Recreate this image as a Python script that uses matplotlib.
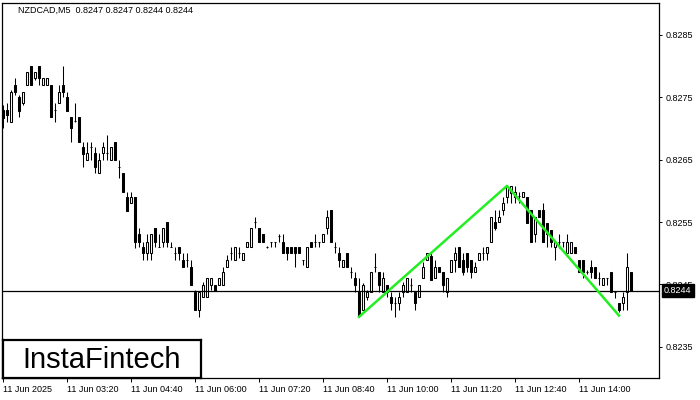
import numpy as np
import matplotlib
matplotlib.use("Agg")
from matplotlib import pyplot as plt
from matplotlib import transforms

plt.rcParams['font.family'] = ['Liberation Sans', 'DejaVu Sans']

# NZDCAD M5 candles, prices in points (1e-5)
open_pts = [
    82730, 82730, 82711, 82770, 82751, 82741, 82770, 82800, 82781, 82800,
    82770, 82770, 82770, 82730, 82741, 82770, 82751, 82719, 82712, 82719,
    82670, 82650, 82670, 82661, 82629, 82661, 82661, 82650, 82679, 82638,
    82629, 82590, 82581, 82590, 82530, 82510, 82501, 82501, 82541, 82510,
    82518, 82550, 82510, 82501, 82510, 82489, 82489, 82478, 82438, 82409,
    82430, 82430, 82449, 82449, 82449, 82449, 82478, 82501, 82489, 82501,
    82489, 82510, 82510, 82550, 82541, 82530, 82510, 82518, 82518, 82528,
    82518, 82510, 82510, 82510, 82510, 82489, 82478, 82518, 82518, 82518,
    82518, 82541, 82570, 82510, 82501, 82478, 82501, 82470, 82461, 82438,
    82409, 82430, 82438, 82478, 82470, 82438, 82449, 82430, 82420, 82420,
    82438, 82438, 82449, 82438, 82430, 82461, 82489, 82496, 82461, 82478,
    82470, 82438, 82470, 82489, 82510, 82489, 82501, 82489, 82470, 82489,
    82501, 82501, 82518, 82550, 82550, 82570, 82590, 82597, 82590, 82592,
    82590, 82590, 82570, 82530, 82570, 82570, 82549, 82537, 82510, 82518,
    82518, 82501, 82501, 82510, 82489, 82489, 82470, 82478, 82478, 82461,
    82449, 82461, 82470, 82438, 82420, 82420, 82438, 82470]
high_pts = [
    82738, 82741, 82762, 82781, 82754, 82759, 82791, 82800, 82791, 82800,
    82781, 82781, 82770, 82741, 82770, 82800, 82759, 82719, 82741, 82719,
    82679, 82679, 82679, 82670, 82661, 82679, 82690, 82670, 82679, 82650,
    82629, 82598, 82598, 82590, 82541, 82518, 82530, 82530, 82541, 82530,
    82541, 82550, 82518, 82510, 82510, 82501, 82501, 82489, 82441, 82438,
    82454, 82461, 82461, 82449, 82461, 82478, 82497, 82510, 82510, 82510,
    82501, 82518, 82541, 82558, 82541, 82530, 82512, 82518, 82518, 82530,
    82530, 82510, 82510, 82510, 82510, 82489, 82510, 82518, 82530, 82518,
    82530, 82570, 82570, 82518, 82510, 82489, 82501, 82478, 82470, 82461,
    82453, 82441, 82470, 82501, 82470, 82470, 82449, 82438, 82430, 82438,
    82454, 82461, 82461, 82438, 82449, 82486, 82501, 82501, 82489, 82478,
    82470, 82461, 82489, 82510, 82510, 82501, 82501, 82489, 82486, 82501,
    82510, 82510, 82558, 82570, 82570, 82590, 82608, 82608, 82608, 82598,
    82598, 82590, 82570, 82558, 82570, 82581, 82549, 82537, 82518, 82530,
    82518, 82530, 82518, 82510, 82489, 82489, 82473, 82489, 82478, 82470,
    82461, 82461, 82470, 82438, 82420, 82438, 82501, 82470]
low_pts = [
    82701, 82711, 82711, 82754, 82719, 82738, 82770, 82770, 82778, 82770,
    82770, 82770, 82719, 82711, 82741, 82751, 82728, 82679, 82711, 82679,
    82638, 82650, 82650, 82629, 82629, 82650, 82650, 82650, 82650, 82621,
    82598, 82568, 82581, 82509, 82510, 82489, 82489, 82489, 82510, 82510,
    82510, 82510, 82510, 82489, 82489, 82478, 82478, 82449, 82409, 82398,
    82430, 82430, 82441, 82440, 82449, 82449, 82478, 82489, 82489, 82493,
    82489, 82510, 82510, 82541, 82518, 82518, 82509, 82510, 82510, 82518,
    82501, 82489, 82501, 82478, 82501, 82481, 82478, 82510, 82510, 82510,
    82518, 82530, 82518, 82501, 82478, 82478, 82478, 82461, 82438, 82398,
    82409, 82425, 82438, 82470, 82438, 82438, 82430, 82409, 82398, 82409,
    82430, 82438, 82438, 82409, 82430, 82461, 82489, 82457, 82461, 82470,
    82438, 82430, 82470, 82470, 82478, 82465, 82470, 82461, 82470, 82489,
    82489, 82489, 82518, 82537, 82550, 82561, 82581, 82581, 82581, 82581,
    82590, 82549, 82518, 82518, 82558, 82518, 82510, 82510, 82489, 82509,
    82510, 82501, 82501, 82501, 82470, 82461, 82467, 82461, 82461, 82449,
    82449, 82449, 82438, 82429, 82406, 82409, 82409, 82440]
close_pts = [
    82717, 82722, 82759, 82759, 82728, 82759, 82791, 82770, 82791, 82781,
    82781, 82781, 82719, 82730, 82759, 82759, 82728, 82701, 82712, 82679,
    82659, 82661, 82670, 82638, 82650, 82670, 82661, 82670, 82650, 82638,
    82598, 82568, 82590, 82518, 82518, 82501, 82518, 82530, 82518, 82510,
    82541, 82518, 82510, 82501, 82501, 82478, 82489, 82449, 82409, 82438,
    82449, 82461, 82461, 82440, 82461, 82470, 82489, 82501, 82510, 82501,
    82501, 82518, 82541, 82550, 82518, 82518, 82510, 82518, 82518, 82528,
    82501, 82501, 82501, 82501, 82501, 82489, 82510, 82510, 82518, 82518,
    82530, 82558, 82518, 82510, 82489, 82489, 82478, 82470, 82449, 82400,
    82449, 82438, 82470, 82478, 82449, 82461, 82438, 82420, 82420, 82430,
    82449, 82461, 82449, 82420, 82449, 82478, 82501, 82457, 82478, 82470,
    82449, 82461, 82489, 82501, 82478, 82470, 82478, 82470, 82478, 82501,
    82501, 82510, 82558, 82541, 82558, 82581, 82608, 82608, 82598, 82592,
    82598, 82549, 82518, 82558, 82558, 82518, 82530, 82518, 82518, 82518,
    82518, 82518, 82518, 82501, 82470, 82470, 82470, 82470, 82461, 82461,
    82461, 82461, 82438, 82438, 82409, 82430, 82478, 82440]

# double top pattern line (bar index, price)
pattern_bars = [89, 126, 154]
pattern_prices = [0.82398, 0.82608, 0.82400]

last_price = 0.8244
price_ticks = [0.8235, 0.8245, 0.8255, 0.8265, 0.8275, 0.8285]
time_tick_bars = [0, 16, 32, 48, 64, 80, 96, 112, 128, 144]
time_tick_labels = ["11 Jun 2025", "11 Jun 03:20", "11 Jun 04:40", "11 Jun 06:00",
                    "11 Jun 07:20", "11 Jun 08:40", "11 Jun 10:00", "11 Jun 11:20",
                    "11 Jun 12:40", "11 Jun 14:00"]
title = "NZDCAD,M5  0.8247 0.8247 0.8244 0.8244"

o = np.array(open_pts) / 1e5
h = np.array(high_pts) / 1e5
l = np.array(low_pts) / 1e5
c = np.array(close_pts) / 1e5
x = np.arange(len(o))

fig = plt.figure(figsize=(7, 4), dpi=100)
ax = fig.add_axes([2/700, 22/400, 657/700, 375/400])

ax.vlines(x, l, h, color='black', lw=0.75, zorder=2)
up = c >= o
ax.bar(x, np.abs(c - o), bottom=np.minimum(o, c), width=0.5,
       color=np.where(up, 'white', 'black'), edgecolor='black', linewidth=0.75, zorder=3)

ax.axhline(last_price, color='black', lw=0.9, zorder=4)
ax.plot(pattern_bars, pattern_prices, color='#22ee22', lw=1.8, zorder=5)

ax.set_xlim(-0.25, 164)
ax.set_ylim(0.82300, 0.82901)

ax.yaxis.tick_right()
ax.set_yticks(price_ticks)
ax.set_yticklabels([f"{p:.4f}" for p in price_ticks])
ax.tick_params(axis='y', length=2.5, width=0.7, pad=2, labelsize=6.5)
ax.set_xticks(time_tick_bars)
ax.set_xticklabels(time_tick_labels, ha='left')
ax.tick_params(axis='x', length=3, width=0.7, pad=2, labelsize=6.5)
for s in ax.spines.values():
    s.set_linewidth(0.9)

# current price label (covers the 0.8245 tick label, as in the terminal)
trans = transforms.blended_transform_factory(ax.transAxes, ax.transData)
ax.text(1 + 5/657, last_price, f"{last_price:.4f}", transform=trans, ha='left', va='center',
        color='white', fontsize=6.5, clip_on=False, zorder=10,
        bbox=dict(boxstyle='square,pad=0.25', facecolor='black', edgecolor='black'))

fig.text(18/700, 1 - 10.5/400, title, fontsize=6.5, va='center')

# logo box
logo = fig.add_axes([3/700, 22/400, 198/700, 38/400])
logo.set_xticks([])
logo.set_yticks([])
for s in logo.spines.values():
    s.set_linewidth(1.6)
logo.text(0.5, 0.47, "InstaFintech", fontsize=21, ha='center', va='center',
          transform=logo.transAxes)

fig.savefig("out.png", dpi=100)
